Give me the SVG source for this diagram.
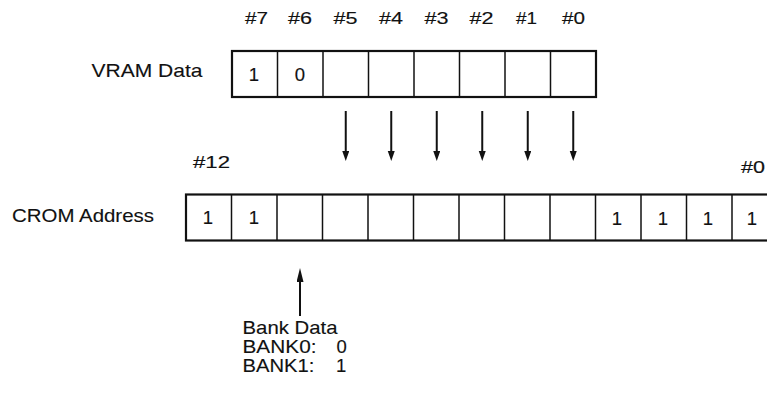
<svg xmlns="http://www.w3.org/2000/svg" width="767" height="396" viewBox="0 0 767 396">
<style>
  .lbl { font-family: "Liberation Sans", Arial, sans-serif; font-size: 18.5px; fill: #111; stroke: #111; stroke-width: 0.12; }
  .num { font-family: "Liberation Sans", Arial, sans-serif; font-size: 17px; fill: #111; stroke: #111; stroke-width: 0.15; }
  .dig { font-family: "Liberation Sans", Arial, sans-serif; font-size: 18.5px; fill: #111; stroke: #111; stroke-width: 0.15; text-anchor: middle; }
  .box { fill: #fff; stroke: #111; stroke-width: 2.2; }
  .div { stroke: #111; stroke-width: 1.5; }
  .arr { stroke: #111; stroke-width: 2; fill: none; }
</style>
<defs>
  <marker id="ah" markerUnits="userSpaceOnUse" markerWidth="12" markerHeight="8" refX="4" refY="3.5" orient="auto">
    <path d="M0,0 L10,3.5 L0,7 z" fill="#111"/>
  </marker>
  <marker id="ahl" markerUnits="userSpaceOnUse" markerWidth="16" markerHeight="8" refX="5" refY="3.5" orient="auto">
    <path d="M0,0 L14,3.5 L0,7 z" fill="#111"/>
  </marker>
</defs>

<g id="bit-labels">
  <text class="num" x="245" y="24" textLength="23" lengthAdjust="spacingAndGlyphs">#7</text>
  <text class="num" x="288" y="24" textLength="24" lengthAdjust="spacingAndGlyphs">#6</text>
  <text class="num" x="333.5" y="24" textLength="24" lengthAdjust="spacingAndGlyphs">#5</text>
  <text class="num" x="379" y="24" textLength="24" lengthAdjust="spacingAndGlyphs">#4</text>
  <text class="num" x="424.5" y="24" textLength="24" lengthAdjust="spacingAndGlyphs">#3</text>
  <text class="num" x="469.5" y="24" textLength="24" lengthAdjust="spacingAndGlyphs">#2</text>
  <text class="num" x="516" y="24" textLength="21" lengthAdjust="spacingAndGlyphs">#1</text>
  <text class="num" x="562" y="24" textLength="23" lengthAdjust="spacingAndGlyphs">#0</text>
</g>

<g id="vram">
  <text class="lbl" x="91.5" y="76.5" textLength="111" lengthAdjust="spacingAndGlyphs">VRAM Data</text>
  <rect class="box" x="232" y="51" width="364" height="46"/>
  <line class="div" x1="277.5" y1="51" x2="277.5" y2="97"/>
  <line class="div" x1="323" y1="51" x2="323" y2="97"/>
  <line class="div" x1="368.5" y1="51" x2="368.5" y2="97"/>
  <line class="div" x1="414" y1="51" x2="414" y2="97"/>
  <line class="div" x1="459.5" y1="51" x2="459.5" y2="97"/>
  <line class="div" x1="505" y1="51" x2="505" y2="97"/>
  <line class="div" x1="550.5" y1="51" x2="550.5" y2="97"/>
  <text class="dig" x="254" y="80.5">1</text>
  <text class="dig" x="300" y="80.5">0</text>
</g>

<g id="connectors">
  <line class="arr" x1="345.75" y1="111" x2="345.75" y2="155" marker-end="url(#ah)"/>
  <line class="arr" x1="391.25" y1="111" x2="391.25" y2="155" marker-end="url(#ah)"/>
  <line class="arr" x1="436.75" y1="111" x2="436.75" y2="155" marker-end="url(#ah)"/>
  <line class="arr" x1="482.25" y1="111" x2="482.25" y2="155" marker-end="url(#ah)"/>
  <line class="arr" x1="527.75" y1="111" x2="527.75" y2="155" marker-end="url(#ah)"/>
  <line class="arr" x1="573.25" y1="111" x2="573.25" y2="155" marker-end="url(#ah)"/>
  <line class="arr" x1="300" y1="316" x2="300" y2="277" marker-end="url(#ahl)"/>
</g>

<g id="crom">
  <text class="num" x="193" y="167.5" textLength="37" lengthAdjust="spacingAndGlyphs">#12</text>
  <text class="num" x="741" y="172.5" textLength="24" lengthAdjust="spacingAndGlyphs">#0</text>
  <text class="lbl" x="12" y="221.5" textLength="142" lengthAdjust="spacingAndGlyphs">CROM Address</text>
  <rect class="box" x="186" y="194.5" width="591.5" height="46"/>
  <line class="div" x1="231.5" y1="194.5" x2="231.5" y2="240.5"/>
  <line class="div" x1="277" y1="194.5" x2="277" y2="240.5"/>
  <line class="div" x1="322.5" y1="194.5" x2="322.5" y2="240.5"/>
  <line class="div" x1="368" y1="194.5" x2="368" y2="240.5"/>
  <line class="div" x1="413.5" y1="194.5" x2="413.5" y2="240.5"/>
  <line class="div" x1="459" y1="194.5" x2="459" y2="240.5"/>
  <line class="div" x1="504.5" y1="194.5" x2="504.5" y2="240.5"/>
  <line class="div" x1="550" y1="194.5" x2="550" y2="240.5"/>
  <line class="div" x1="595.5" y1="194.5" x2="595.5" y2="240.5"/>
  <line class="div" x1="641" y1="194.5" x2="641" y2="240.5"/>
  <line class="div" x1="686.5" y1="194.5" x2="686.5" y2="240.5"/>
  <line class="div" x1="732" y1="194.5" x2="732" y2="240.5"/>
  <text class="dig" x="208" y="224">1</text>
  <text class="dig" x="254" y="224">1</text>
  <text class="dig" x="617" y="224.5">1</text>
  <text class="dig" x="663" y="224.5">1</text>
  <text class="dig" x="708" y="224.5">1</text>
  <text class="dig" x="752" y="224.5">1</text>
</g>

<g id="bank-data">
  <text class="lbl" x="242.5" y="334" textLength="95" lengthAdjust="spacingAndGlyphs">Bank Data</text>
  <text class="lbl" x="242.5" y="353"><tspan textLength="74" lengthAdjust="spacingAndGlyphs">BANK0:</tspan> <tspan x="336.5">0</tspan></text>
  <text class="lbl" x="242.5" y="372"><tspan textLength="72" lengthAdjust="spacingAndGlyphs">BANK1:</tspan> <tspan x="336">1</tspan></text>
</g>
</svg>
